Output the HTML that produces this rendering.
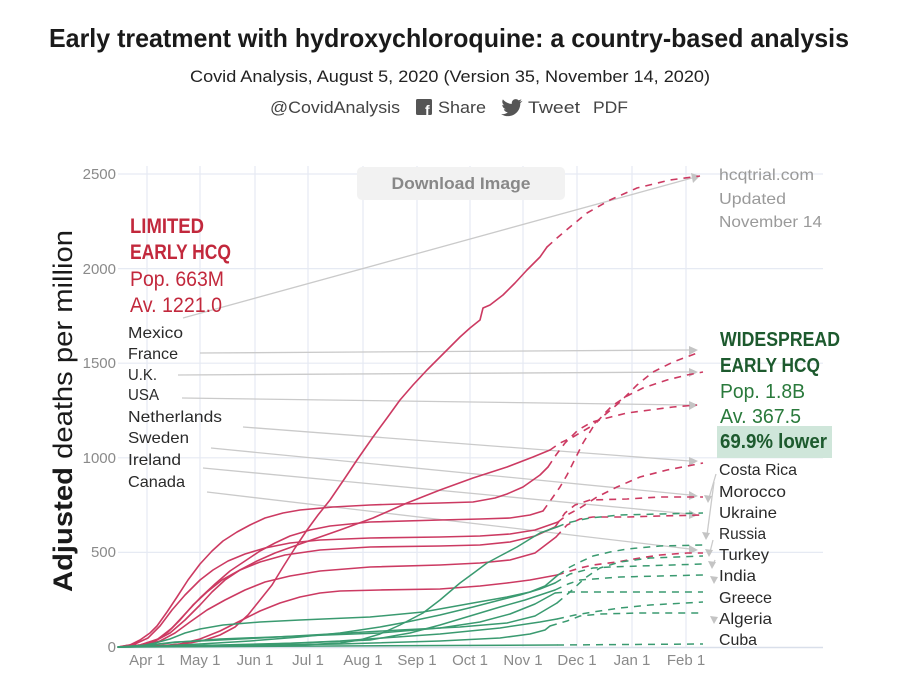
<!DOCTYPE html>
<html>
<head>
<meta charset="utf-8">
<style>
  html, body { margin:0; padding:0; background:#ffffff; }
  svg { display:block; }
  text { font-family: "Liberation Sans", "DejaVu Sans", sans-serif; }
</style>
</head>
<body>
<svg width="900" height="700" viewBox="0 0 900 700" xmlns="http://www.w3.org/2000/svg">
  <rect x="0" y="0" width="900" height="700" fill="#ffffff"/>

  <!-- Header -->
  <text x="49" y="47" font-size="26" font-weight="bold" fill="#1a1a1a" textLength="800" lengthAdjust="spacingAndGlyphs">Early treatment with hydroxychloroquine: a country-based analysis</text>
  <text x="190" y="82" font-size="17" fill="#222" textLength="520" lengthAdjust="spacingAndGlyphs">Covid Analysis, August 5, 2020 (Version 35, November 14, 2020)</text>
  <text x="270" y="113" font-size="17" fill="#444" textLength="130" lengthAdjust="spacingAndGlyphs">@CovidAnalysis</text>
  <rect x="416" y="99" width="16" height="16" rx="1.5" fill="#555"/>
  <text x="425" y="115" font-size="14" font-weight="bold" fill="#fff">f</text>
  <text x="438" y="113" font-size="17" fill="#444" textLength="48" lengthAdjust="spacingAndGlyphs">Share</text>
  <path d="M522,101 c-0.8,0.4 -1.6,0.6 -2.5,0.7 c0.9,-0.6 1.6,-1.4 1.9,-2.4 c-0.9,0.5 -1.8,0.9 -2.8,1.1 c-1.7,-1.8 -4.7,-1.6 -6.2,0.5 c-0.6,0.9 -0.8,2 -0.5,3 c-3.5,-0.2 -6.8,-1.8 -9,-4.5 c-1.2,2 -0.6,4.6 1.4,5.9 c-0.7,0 -1.4,-0.2 -2,-0.5 c0,2.1 1.5,3.9 3.5,4.3 c-0.6,0.2 -1.3,0.2 -2,0.1 c0.6,1.8 2.2,3 4.1,3 c-1.9,1.5 -4.4,2.2 -6.8,1.9 c8.6,5.5 19.2,-0.6 19.2,-10.6 l0,-0.5 c0.9,-0.6 1.6,-1.4 2.2,-2.3 z" fill="#555"/>
  <text x="528" y="113" font-size="17" fill="#444" textLength="52" lengthAdjust="spacingAndGlyphs">Tweet</text>
  <text x="593" y="113" font-size="17" fill="#444" textLength="35" lengthAdjust="spacingAndGlyphs">PDF</text>

  <!-- Grid -->
  <g stroke="#e6eaf3" stroke-width="1.2">
    <line x1="118" y1="174" x2="823" y2="174"/>
    <line x1="118" y1="268.6" x2="823" y2="268.6"/>
    <line x1="118" y1="363.2" x2="823" y2="363.2"/>
    <line x1="118" y1="457.8" x2="823" y2="457.8"/>
    <line x1="118" y1="552.4" x2="823" y2="552.4"/>
    <line x1="147" y1="166" x2="147" y2="647"/>
    <line x1="200" y1="166" x2="200" y2="647"/>
    <line x1="255" y1="166" x2="255" y2="647"/>
    <line x1="308" y1="166" x2="308" y2="647"/>
    <line x1="363" y1="166" x2="363" y2="647"/>
    <line x1="417" y1="166" x2="417" y2="647"/>
    <line x1="470" y1="166" x2="470" y2="647"/>
    <line x1="523" y1="166" x2="523" y2="647"/>
    <line x1="577" y1="166" x2="577" y2="647"/>
    <line x1="632" y1="166" x2="632" y2="647"/>
    <line x1="686" y1="166" x2="686" y2="647"/>
  </g>
  <line x1="118" y1="647.5" x2="823" y2="647.5" stroke="#d9dfea" stroke-width="1.5"/>

  <!-- Y tick labels -->
  <g font-size="15" fill="#8a8a8a" text-anchor="end">
    <text x="116" y="179">2500</text>
    <text x="116" y="274">2000</text>
    <text x="116" y="368">1500</text>
    <text x="116" y="463">1000</text>
    <text x="116" y="557">500</text>
    <text x="116" y="652">0</text>
  </g>
  <!-- X tick labels -->
  <g font-size="15" fill="#8a8a8a" text-anchor="middle">
    <text x="147" y="665">Apr 1</text>
    <text x="200" y="665">May 1</text>
    <text x="255" y="665">Jun 1</text>
    <text x="308" y="665">Jul 1</text>
    <text x="363" y="665">Aug 1</text>
    <text x="417" y="665">Sep 1</text>
    <text x="470" y="665">Oct 1</text>
    <text x="523" y="665">Nov 1</text>
    <text x="577" y="665">Dec 1</text>
    <text x="632" y="665">Jan 1</text>
    <text x="686" y="665">Feb 1</text>
  </g>

  <!-- Y axis title -->
  <text transform="translate(72,411) rotate(-90)" text-anchor="middle" font-size="27" fill="#1a1a1a" textLength="362" lengthAdjust="spacingAndGlyphs"><tspan font-weight="bold">Adjusted</tspan> deaths per million</text>

  <!-- Gray connectors -->
  <g stroke="#cacaca" stroke-width="1.3" fill="none">
    <line x1="183" y1="318" x2="692" y2="178"/>
    <line x1="200" y1="353" x2="690" y2="350"/>
    <line x1="178" y1="375" x2="690" y2="372"/>
    <line x1="182" y1="398" x2="690" y2="405"/>
    <line x1="243" y1="427" x2="690" y2="461"/>
    <line x1="211" y1="448" x2="690" y2="495"/>
    <line x1="203" y1="468" x2="690" y2="514"/>
    <line x1="207" y1="492" x2="690" y2="549"/>
    <line x1="716" y1="474" x2="709" y2="498"/>
    <line x1="714" y1="482" x2="707" y2="535"/>
    <line x1="713" y1="540" x2="710" y2="552"/>
    <line x1="715" y1="560" x2="713" y2="565"/>
  </g>
  <g fill="#c4c4c4">
    <polygon points="700,176 691,173 693,183"/>
    <polygon points="698,350 689,346 689,355"/>
    <polygon points="698,372 689,368 689,377"/>
    <polygon points="698,405 689,401 689,410"/>
    <polygon points="698,461 689,457 689,466"/>
    <polygon points="698,496 689,491 689,500"/>
    <polygon points="698,515 689,510 689,519"/>
    <polygon points="698,550 689,545 689,554"/>
    <polygon points="708,503 704,495 712,496"/>
    <polygon points="706,540 702,532 710,533"/>
    <polygon points="709,557 705,549 713,550"/>
    <polygon points="712,569 708,561 716,562"/>
    <polygon points="714,584 710,576 718,577"/>
    <polygon points="714,624 710,616 718,617"/>
  </g>

  <!-- Red solid series -->
  <g fill="none" stroke="#cc3a62" stroke-width="1.6" stroke-linejoin="round" stroke-linecap="round">
    <polyline points="118,647 150,646 170,645 190,643 205,640 220,635 235,627 248,615 260,600 272,585 283,567 295,548 307,530 318,515 330,500 345,478 357,460 373,437 387,418 400,400 413,385 427,370 440,357 447,350 460,337 470,328 480,320 483,308 490,305 503,295 515,283 527,270 540,257 547,247"/>
    <polyline points="118,647 130,645 140,640 150,633 157,626 167,612 177,597 188,580 200,564 212,551 223,541 237,532 250,525 265,518 283,513 300,510 333,507 370,505 400,504 440,503 473,502 495,498 507,494 523,487 540,475 548,467"/>
    <polyline points="118,647 140,645 155,641 170,633 185,620 200,605 212,592 225,580 240,570 257,561 275,553 300,544 320,537 340,530 373,518 407,503 440,490 473,478 507,467 533,457 550,450"/>
    <polyline points="118,647 140,645 158,639 172,628 185,614 200,598 215,584 230,571 245,561 260,551 275,543 290,536 310,530 330,526 370,522 440,520 480,519 510,518 530,515 543,511"/>
    <polyline points="118,647 135,644 148,638 160,626 172,610 185,595 200,580 213,570 228,561 245,554 265,548 290,543 320,540 370,538 440,537 480,536 510,534 535,530 558,522"/>
    <polyline points="118,647 140,645 155,641 168,632 180,620 193,605 207,592 222,580 240,570 260,562 285,555 320,550 370,547 440,546 480,545 510,542 535,536 555,527"/>
    <polyline points="118,647 145,645 160,641 175,633 190,622 207,610 225,600 245,590 265,582 290,576 320,571 370,567 440,565 480,563 510,560 535,553 556,537"/>
    <polyline points="118,647 160,646 180,644 200,639 220,631 240,621 260,611 280,603 300,597 320,593 340,591 380,590 440,589 480,586 507,583 530,580 557,575"/>
  </g>
  <!-- Red dashed projections -->
  <g fill="none" stroke="#cc3a62" stroke-width="1.6" stroke-dasharray="7,6" stroke-linejoin="round">
    <polyline points="547,247 557,238 570,227 587,213 610,200 637,188 670,180 700,176"/>
    <polyline points="548,467 556,455 565,443 578,430 592,422 607,418 627,413 650,410 673,407 697,405"/>
    <polyline points="550,450 560,443 573,437 590,427 607,413 620,402 637,385 653,372 673,362 700,352"/>
    <polyline points="543,511 553,497 560,487 567,475 573,463 583,443 593,427 603,415 612,406 627,396 643,388 667,380 687,375 703,372"/>
    <polyline points="558,522 567,515 580,508 597,497 617,487 640,477 667,470 703,463"/>
    <polyline points="555,527 565,513 575,505 590,500 627,499 660,497 703,497"/>
    <polyline points="556,537 567,525 580,519 593,517 627,517 660,516 703,515"/>
    <polyline points="557,575 567,572 580,568 593,565 617,562 640,558 660,555 687,553 703,553"/>
  </g>

  <!-- Green solid series -->
  <g fill="none" stroke="#3a9a70" stroke-width="1.5" stroke-linejoin="round" stroke-linecap="round">
    <polyline points="118,647 250,646 300,645 340,643 360,640 380,634 400,625 423,613 440,600 460,583 475,572 487,563 500,556 517,547 530,539 540,533 557,527"/>
    <polyline points="118,647 140,646 155,643 170,639 185,633 200,629 223,625 260,622 300,620 370,617 423,612 473,603 507,597 530,592 545,586 558,575"/>
    <polyline points="118,647 160,646 200,644 250,641 300,637 340,633 380,627 407,622 440,615 473,607 500,600 520,595 540,589 555,583"/>
    <polyline points="118,647 220,645 300,643 370,640 410,633 440,625 470,616 500,607 525,600 540,595 555,590"/>
    <polyline points="118,647 150,645 180,642 220,639 300,636 380,633 440,628 480,622 510,614 535,604 555,593"/>
    <polyline points="118,647 250,645 340,641 440,634 500,628 540,622 557,619"/>
    <polyline points="118,647 200,646 340,644 440,641 500,638 530,634 545,630 550,626"/>
    <polyline points="118,647 557,645"/>
    <polyline points="118,647 150,645 175,642 200,641 260,638 330,634 400,630 460,627 507,623 535,616 557,603"/>
  </g>
  <!-- Green dashed projections -->
  <g fill="none" stroke="#3a9a70" stroke-width="1.5" stroke-dasharray="7,6" stroke-linejoin="round">
    <polyline points="557,527 567,523 580,520 590,518 620,515 660,514 703,513"/>
    <polyline points="558,575 570,567 580,562 593,556 610,552 627,549 660,546 703,545"/>
    <polyline points="555,583 570,574 593,568 610,567 640,566 703,564"/>
    <polyline points="555,590 568,584 580,580 620,577 660,576 703,575"/>
    <polyline points="555,593 567,592 703,592"/>
    <polyline points="557,619 575,615 593,612 620,608 650,605 703,602"/>
    <polyline points="550,626 567,621 580,616 600,614 640,613 703,613"/>
    <polyline points="557,645 703,644"/>
    <polyline points="557,603 570,592 585,578 600,568 620,562 650,558 703,556"/>
  </g>

  <!-- Download Image button -->
  <rect x="357" y="167" width="208" height="33" rx="5" fill="#f2f2f2"/>
  <text x="461" y="189" font-size="17" font-weight="bold" fill="#888" text-anchor="middle" textLength="139" lengthAdjust="spacingAndGlyphs">Download Image</text>

  <!-- Limited early HCQ block -->
  <g fill="#c2283c">
    <text x="130" y="233" font-size="21" font-weight="bold" textLength="74" lengthAdjust="spacingAndGlyphs">LIMITED</text>
    <text x="130" y="259" font-size="21" font-weight="bold" textLength="101" lengthAdjust="spacingAndGlyphs">EARLY HCQ</text>
    <text x="130" y="286" font-size="21" textLength="94" lengthAdjust="spacingAndGlyphs">Pop. 663M</text>
    <text x="130" y="312" font-size="21" textLength="92" lengthAdjust="spacingAndGlyphs">Av. 1221.0</text>
  </g>

  <!-- Left country labels -->
  <g font-size="16" fill="#2a2a2a">
    <text x="128" y="338" textLength="55" lengthAdjust="spacingAndGlyphs">Mexico</text>
    <text x="128" y="359" textLength="50" lengthAdjust="spacingAndGlyphs">France</text>
    <text x="128" y="380" textLength="29" lengthAdjust="spacingAndGlyphs">U.K.</text>
    <text x="128" y="400" textLength="31" lengthAdjust="spacingAndGlyphs">USA</text>
    <text x="128" y="422" textLength="94" lengthAdjust="spacingAndGlyphs">Netherlands</text>
    <text x="128" y="443" textLength="61" lengthAdjust="spacingAndGlyphs">Sweden</text>
    <text x="128" y="465" textLength="53" lengthAdjust="spacingAndGlyphs">Ireland</text>
    <text x="128" y="487" textLength="57" lengthAdjust="spacingAndGlyphs">Canada</text>
  </g>

  <!-- hcqtrial note -->
  <g font-size="16" fill="#9a9a9a">
    <text x="719" y="180" textLength="95" lengthAdjust="spacingAndGlyphs">hcqtrial.com</text>
    <text x="719" y="204" textLength="67" lengthAdjust="spacingAndGlyphs">Updated</text>
    <text x="719" y="227" textLength="103" lengthAdjust="spacingAndGlyphs">November 14</text>
  </g>

  <!-- Widespread early HCQ block -->
  <text x="720" y="346" font-size="20" font-weight="bold" fill="#1d5a2e" textLength="120" lengthAdjust="spacingAndGlyphs">WIDESPREAD</text>
  <text x="720" y="372" font-size="20" font-weight="bold" fill="#1d5a2e" textLength="100" lengthAdjust="spacingAndGlyphs">EARLY HCQ</text>
  <text x="720" y="398" font-size="20" fill="#2a7a3c" textLength="85" lengthAdjust="spacingAndGlyphs">Pop. 1.8B</text>
  <text x="720" y="423" font-size="20" fill="#2a7a3c" textLength="81" lengthAdjust="spacingAndGlyphs">Av. 367.5</text>
  <rect x="717" y="426" width="115" height="32" fill="#cfe6da"/>
  <text x="720" y="448" font-size="20" font-weight="bold" fill="#1d5a2e" textLength="107" lengthAdjust="spacingAndGlyphs">69.9% lower</text>

  <!-- Right country labels -->
  <g font-size="16" fill="#2a2a2a">
    <text x="719" y="475" textLength="78" lengthAdjust="spacingAndGlyphs">Costa Rica</text>
    <text x="719" y="497" textLength="67" lengthAdjust="spacingAndGlyphs">Morocco</text>
    <text x="719" y="518" textLength="58" lengthAdjust="spacingAndGlyphs">Ukraine</text>
    <text x="719" y="539" textLength="47" lengthAdjust="spacingAndGlyphs">Russia</text>
    <text x="719" y="560" textLength="50" lengthAdjust="spacingAndGlyphs">Turkey</text>
    <text x="719" y="581" textLength="37" lengthAdjust="spacingAndGlyphs">India</text>
    <text x="719" y="603" textLength="53" lengthAdjust="spacingAndGlyphs">Greece</text>
    <text x="719" y="624" textLength="53" lengthAdjust="spacingAndGlyphs">Algeria</text>
    <text x="719" y="645" textLength="38" lengthAdjust="spacingAndGlyphs">Cuba</text>
  </g>
</svg>
</body>
</html>
